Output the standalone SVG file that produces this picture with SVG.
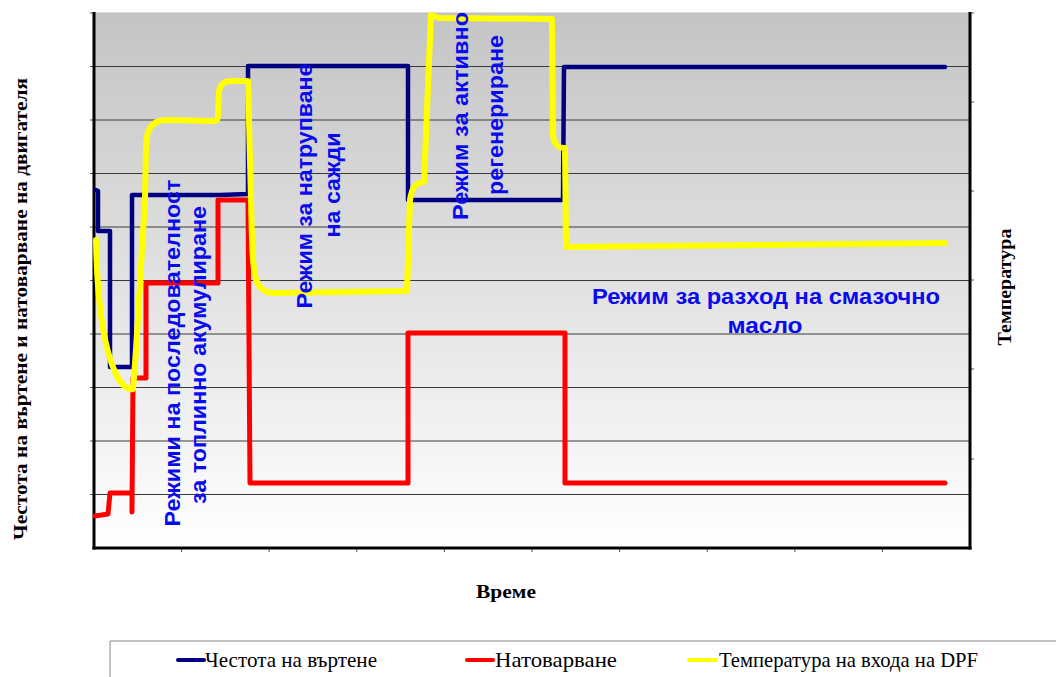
<svg xmlns="http://www.w3.org/2000/svg" width="1056" height="677" viewBox="0 0 1056 677">
<defs>
<linearGradient id="bg" x1="0" y1="0" x2="0" y2="1">
<stop offset="0" stop-color="#c4c4c4"/>
<stop offset="1" stop-color="#ffffff"/>
</linearGradient>
<style>
.grid{stroke:#3a3a3a;stroke-width:1;fill:none}
.axis{stroke:#000;stroke-width:3;fill:none}
.tick{stroke:#555;stroke-width:1}
.series{fill:none;stroke-linejoin:round;stroke-linecap:round}
.spd{stroke:#000080;stroke-width:4.5}
.load{stroke:#ff0000;stroke-width:5}
.temp{stroke:#ffff00;stroke-width:6}
.mode{font-family:"Liberation Sans",Arial,sans-serif;font-weight:bold;font-size:21.5px;fill:#0a0aee}
.ttl{font-family:"Liberation Serif","Times New Roman",serif;font-weight:bold;font-size:19px;fill:#000}
.leg{font-family:"Liberation Serif","Times New Roman",serif;font-size:21px;fill:#000}
</style>
</defs>
<rect width="1056" height="677" fill="#fff"/>
<g id="plot">
<rect x="94" y="13" width="876" height="535" fill="url(#bg)"/>
<line x1="94" y1="13" x2="970" y2="13" stroke="#bbb" stroke-width="1"/>
<g class="grid">
<line x1="94" y1="66.5" x2="970" y2="66.5"/>
<line x1="94" y1="120" x2="970" y2="120"/>
<line x1="94" y1="173.5" x2="970" y2="173.5"/>
<line x1="94" y1="227" x2="970" y2="227"/>
<line x1="94" y1="280.5" x2="970" y2="280.5"/>
<line x1="94" y1="334" x2="970" y2="334"/>
<line x1="94" y1="387.5" x2="970" y2="387.5"/>
<line x1="94" y1="441" x2="970" y2="441"/>
<line x1="94" y1="494.5" x2="970" y2="494.5"/>
</g>
<g class="tick">
<line x1="90" y1="13" x2="94" y2="13"/><line x1="90" y1="66.5" x2="94" y2="66.5"/><line x1="90" y1="120" x2="94" y2="120"/><line x1="90" y1="173.5" x2="94" y2="173.5"/><line x1="90" y1="227" x2="94" y2="227"/><line x1="90" y1="280.5" x2="94" y2="280.5"/><line x1="90" y1="334" x2="94" y2="334"/><line x1="90" y1="387.5" x2="94" y2="387.5"/><line x1="90" y1="441" x2="94" y2="441"/><line x1="90" y1="494.5" x2="94" y2="494.5"/>
<line x1="970" y1="13" x2="974" y2="13"/><line x1="970" y1="102" x2="974" y2="102"/><line x1="970" y1="191" x2="974" y2="191"/><line x1="970" y1="280" x2="974" y2="280"/><line x1="970" y1="369" x2="974" y2="369"/><line x1="970" y1="459" x2="974" y2="459"/>
<line x1="181.6" y1="548" x2="181.6" y2="552"/><line x1="269.2" y1="548" x2="269.2" y2="552"/><line x1="356.8" y1="548" x2="356.8" y2="552"/><line x1="444.4" y1="548" x2="444.4" y2="552"/><line x1="532" y1="548" x2="532" y2="552"/><line x1="619.6" y1="548" x2="619.6" y2="552"/><line x1="707.2" y1="548" x2="707.2" y2="552"/><line x1="794.8" y1="548" x2="794.8" y2="552"/><line x1="882.4" y1="548" x2="882.4" y2="552"/>
</g>
<g class="axis">
<line x1="94" y1="12" x2="94" y2="549.5"/>
<line x1="92.5" y1="548" x2="971.5" y2="548"/>
<line x1="970" y1="12" x2="970" y2="549.5"/>
</g>
</g>
<g id="connectors">
<path id="speed" class="series spd" d="M96,190 L98,191 L98,231 L110,231 L110,367 L132,367 L132,195 L220,195 L248,194 L248,66 L408,66 L408,200 L563,200 L564,67 L945,67"/>
<path id="load" class="series load" d="M95,516 L108,514 L110,493 L132,493 L132,512 L133,378 L146,378 L146,283 L218,283 L218,200 L248,200 L250,483 L408,483 L408,333 L565,333 L565,483 L945,483"/>
<path id="temperature" class="series temp" d="M96,240 C97,300 103,345 115,372 C121,386 128,390 133,389 C136,360 140,280 145,200 L146,145 C147,128 152,121 165,120 L214,121 C218,121 218,118 218,112 L219,92 C220,84 224,81 232,81 L248,81 L252,240 C253,275 255,292 272,293 L407,291 L410,200 C412,186 416,183 424,182 L431,15 L439,18 L552,19 L553,135 C554,145 558,148 565,148 L566,247 L945,243"/>
</g>
<g id="mode-labels">
<text class="mode" transform="translate(180,353) rotate(-90)" text-anchor="middle" textLength="347" lengthAdjust="spacingAndGlyphs">Режими на последователност</text>
<text class="mode" transform="translate(206,355) rotate(-90)" text-anchor="middle" textLength="298" lengthAdjust="spacingAndGlyphs">за топлинно акумулиране</text>
<text class="mode" transform="translate(312,186) rotate(-90)" text-anchor="middle" textLength="245" lengthAdjust="spacingAndGlyphs">Режим за натрупване</text>
<text class="mode" transform="translate(340,185) rotate(-90)" text-anchor="middle" textLength="105" lengthAdjust="spacingAndGlyphs">на сажди</text>
<text class="mode" transform="translate(468,116) rotate(-90)" text-anchor="middle" textLength="208" lengthAdjust="spacingAndGlyphs">Режим за активно</text>
<text class="mode" transform="translate(503,115) rotate(-90)" text-anchor="middle" textLength="160" lengthAdjust="spacingAndGlyphs">регенериране</text>
<text class="mode" x="766" y="304" text-anchor="middle" textLength="348" lengthAdjust="spacingAndGlyphs">Режим за разход на смазочно</text>
<text class="mode" x="765" y="333" text-anchor="middle" textLength="75" lengthAdjust="spacingAndGlyphs">масло</text>
</g>
<g id="axis-titles">
<text class="ttl" transform="translate(27,309) rotate(-90)" text-anchor="middle" textLength="462" lengthAdjust="spacingAndGlyphs">Честота на въртене и натоварване на двигателя</text>
<text class="ttl" transform="translate(1011,287) rotate(-90)" text-anchor="middle" textLength="117" lengthAdjust="spacingAndGlyphs">Температура</text>
<text class="ttl" x="506" y="598" text-anchor="middle" textLength="60" lengthAdjust="spacingAndGlyphs">Време</text>
</g>
<g id="legend">
<polyline points="1056,641 110,641 110,677" fill="none" stroke="#888" stroke-width="1"/>
<line x1="178" y1="660" x2="204" y2="660" stroke="#000080" stroke-width="4" stroke-linecap="round"/>
<text class="leg" x="205" y="667" textLength="172" lengthAdjust="spacingAndGlyphs">Честота на въртене</text>
<line x1="467" y1="660" x2="493" y2="660" stroke="#ff0000" stroke-width="4" stroke-linecap="round"/>
<text class="leg" x="495" y="667" textLength="122" lengthAdjust="spacingAndGlyphs">Натоварване</text>
<line x1="689" y1="660" x2="716" y2="660" stroke="#ffff00" stroke-width="4" stroke-linecap="round"/>
<text class="leg" x="719" y="667" textLength="259" lengthAdjust="spacingAndGlyphs">Температура на входа на DPF</text>
</g>
</svg>
